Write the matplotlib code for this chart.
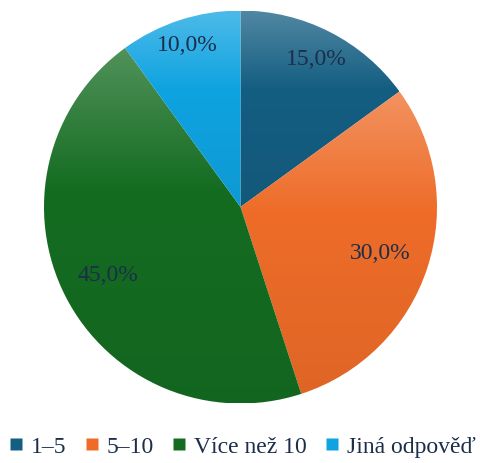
import numpy as np
import matplotlib.pyplot as plt
from matplotlib.colors import LinearSegmentedColormap, to_rgb
from matplotlib.lines import Line2D

# data
labels = ['1–5', '5–10', 'Více než 10', 'Jiná odpověď']
values = [15.0, 30.0, 45.0, 10.0]
colors = ['#145e82', '#ee6c28', '#146c21', '#0fa3e1']
pct_dist = [0.85, 0.75, 0.76, 0.87]

plt.rcParams['font.family'] = ['Liberation Serif', 'DejaVu Serif']

fig = plt.figure(figsize=(4.81, 4.64), dpi=100)
ax = fig.add_axes([44 / 481, 59.5 / 464, 393 / 481, 393 / 464])

wedges, _ = ax.pie(values, startangle=90, counterclock=False,
                   colors=colors, radius=1)


def mix(c, t):
    r = np.array(to_rgb(c))
    if t >= 0:
        return tuple(r + (1 - r) * t)
    return tuple(r * (1 + t))


# vertical gradient fill, lighter at the top of each slice
for w, c in zip(wedges, colors):
    w.set_facecolor('none')
    w.set_edgecolor('none')
    bb = w.get_path().get_extents()
    cmap = LinearSegmentedColormap.from_list(
        'g', [(0, mix(c, -0.06)), (0.6, mix(c, 0.0)), (1, mix(c, 0.26))])
    grad = np.linspace(0, 1, 256).reshape(-1, 1)
    im = ax.imshow(grad, cmap=cmap, origin='lower', aspect='auto',
                   extent=[bb.x0, bb.x1, bb.y0, bb.y1], zorder=1)
    im.set_clip_path(w)

# percentage labels
for w, v, d in zip(wedges, values, pct_dist):
    ang = np.deg2rad((w.theta1 + w.theta2) / 2)
    ax.text(d * np.cos(ang), d * np.sin(ang), f'{v:.1f}%'.replace('.', ','),
            ha='center', va='center', fontsize=17, color='#1c2e4a', zorder=3)

ax.set_xlim(-1, 1)
ax.set_ylim(-1, 1)
ax.set_aspect('equal')
ax.axis('off')

handles = [Line2D([], [], marker='s', linestyle='none', markersize=8,
                  markerfacecolor=c, markeredgecolor='none') for c in colors]
leg = fig.legend(handles, labels, loc='center', bbox_to_anchor=(0.505, 17 / 464),
                 ncol=4, frameon=False, fontsize=17, handlelength=0.5,
                 handletextpad=0.35, columnspacing=0.85, borderpad=0,
                 borderaxespad=0, labelcolor='#1c2e4a')

fig.savefig('out.png', dpi=100)
